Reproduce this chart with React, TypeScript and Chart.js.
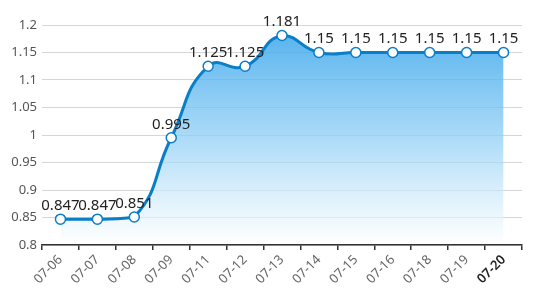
import React, { useEffect, useRef } from "react";
import { Chart, registerables } from "chart.js";

Chart.register(...registerables);

const categories = ["07-06", "07-07", "07-08", "07-09", "07-11", "07-12", "07-13", "07-14", "07-15", "07-16", "07-18", "07-19", "07-20"];
const values = [0.847, 0.847, 0.851, 0.995, 1.125, 1.125, 1.181, 1.15, 1.15, 1.15, 1.15, 1.15, 1.15];
const yMin = 0.8;
const yMax = 1.2;
const yStep = 0.05;
const smooth = 0.5;

// distance-weighted smoothing of control points (constrained to the points' bounding box)
const smoothCurve = {
  id: "smoothCurve",
  beforeDraw(chart: any) {
    const meta = chart.getDatasetMeta(0);
    const line = meta.dataset;
    line.updateControlPoints(chart.chartArea, "x");
    const pts = meta.data;
    const n = pts.length;
    let minX = Infinity, maxX = -Infinity, minY = Infinity, maxY = -Infinity;
    pts.forEach((p: any) => {
      minX = Math.min(minX, p.x); maxX = Math.max(maxX, p.x);
      minY = Math.min(minY, p.y); maxY = Math.max(maxY, p.y);
    });
    const clampX = (v: number) => Math.min(maxX, Math.max(minX, v));
    const clampY = (v: number) => Math.min(maxY, Math.max(minY, v));
    for (let i = 0; i < n; i++) {
      const p = pts[i];
      const prev = pts[Math.max(0, i - 1)];
      const next = pts[Math.min(n - 1, i + 1)];
      const vx = (next.x - prev.x) * smooth;
      const vy = (next.y - prev.y) * smooth;
      let d0 = Math.hypot(p.x - prev.x, p.y - prev.y);
      let d1 = Math.hypot(next.x - p.x, next.y - p.y);
      const sum = d0 + d1;
      if (sum > 0) { d0 /= sum; d1 /= sum; }
      p.cp1x = clampX(p.x - vx * d0);
      p.cp1y = clampY(p.y - vy * d0);
      p.cp2x = clampX(p.x + vx * d1);
      p.cp2y = clampY(p.y + vy * d1);
    }
    line._path = undefined;
  },
};

const valueLabels = {
  id: "valueLabels",
  afterDatasetsDraw(chart: any) {
    const ctx = chart.ctx;
    const meta = chart.getDatasetMeta(0);
    ctx.save();
    ctx.font = "15px 'Noto Sans', sans-serif";
    ctx.fillStyle = "#222";
    ctx.textAlign = "center";
    ctx.textBaseline = "bottom";
    meta.data.forEach((pt: any, i: number) => {
      ctx.fillText(String(values[i]), pt.x, pt.y - 6);
    });
    ctx.restore();
  },
};

export default function App() {
  const ref = useRef<HTMLCanvasElement>(null);
  useEffect(() => {
    document.body.style.margin = "0";
    const canvas = ref.current!;
    const chart = new Chart(canvas, {
      type: "line",
      data: {
        labels: categories,
        datasets: [
          {
            data: values,
            borderColor: "#0a7ec8",
            borderWidth: 3,
            tension: 0.4,
            fill: "start",
            backgroundColor: (c: any) => {
              const area = c.chart.chartArea;
              if (!area) return "rgba(80,175,235,0.8)";
              const g = c.chart.ctx.createLinearGradient(0, area.top, 0, area.bottom);
              g.addColorStop(0, "rgba(55,165,235,0.88)");
              g.addColorStop(0.5, "rgba(140,205,245,0.75)");
              g.addColorStop(1, "rgba(255,255,255,0.6)");
              return g;
            },
            pointRadius: 5,
            pointHoverRadius: 5,
            pointBackgroundColor: "#fff",
            pointBorderColor: "#0a7ec8",
            pointBorderWidth: 1.5,
          },
        ],
      },
      options: {
        animation: false,
        responsive: false,
        layout: { padding: { top: 25, right: 14, left: 0, bottom: 0 } },
        plugins: { legend: { display: false }, tooltip: { enabled: false } },
        scales: {
          x: {
            offset: true,
            grid: { display: true, drawOnChartArea: false, offset: true, tickLength: 5, color: "#333", lineWidth: 1.5, z: 1 },
            border: { display: true, color: "#333", width: 1.5, z: 1 },
            ticks: {
              maxRotation: 45,
              minRotation: 45,
              padding: 2,
              autoSkip: false,
              color: (c: any) => (c.index === categories.length - 1 ? "#222" : "#666"),
              font: (c: any) => ({ family: "'Noto Sans', sans-serif", size: 13, weight: c.index === categories.length - 1 ? "600" : "normal" }),
            },
            afterFit: (s: any) => { s.height = 45; },
          },
          y: {
            min: yMin,
            max: yMax,
            grid: { drawTicks: false, color: "#d6d6d6" },
            border: { display: false },
            ticks: {
              stepSize: yStep,
              padding: 5,
              color: "#555",
              font: { family: "'Noto Sans', sans-serif", size: 13 },
              callback: (v: any) => String(Number(Number(v).toFixed(2))),
            },
            afterFit: (s: any) => { s.width = 42; },
          },
        },
      },
      plugins: [smoothCurve, valueLabels],
    });
    return () => chart.destroy();
  }, []);
  return <canvas ref={ref} width={536} height={290} style={{ display: "block" }} />;
}
